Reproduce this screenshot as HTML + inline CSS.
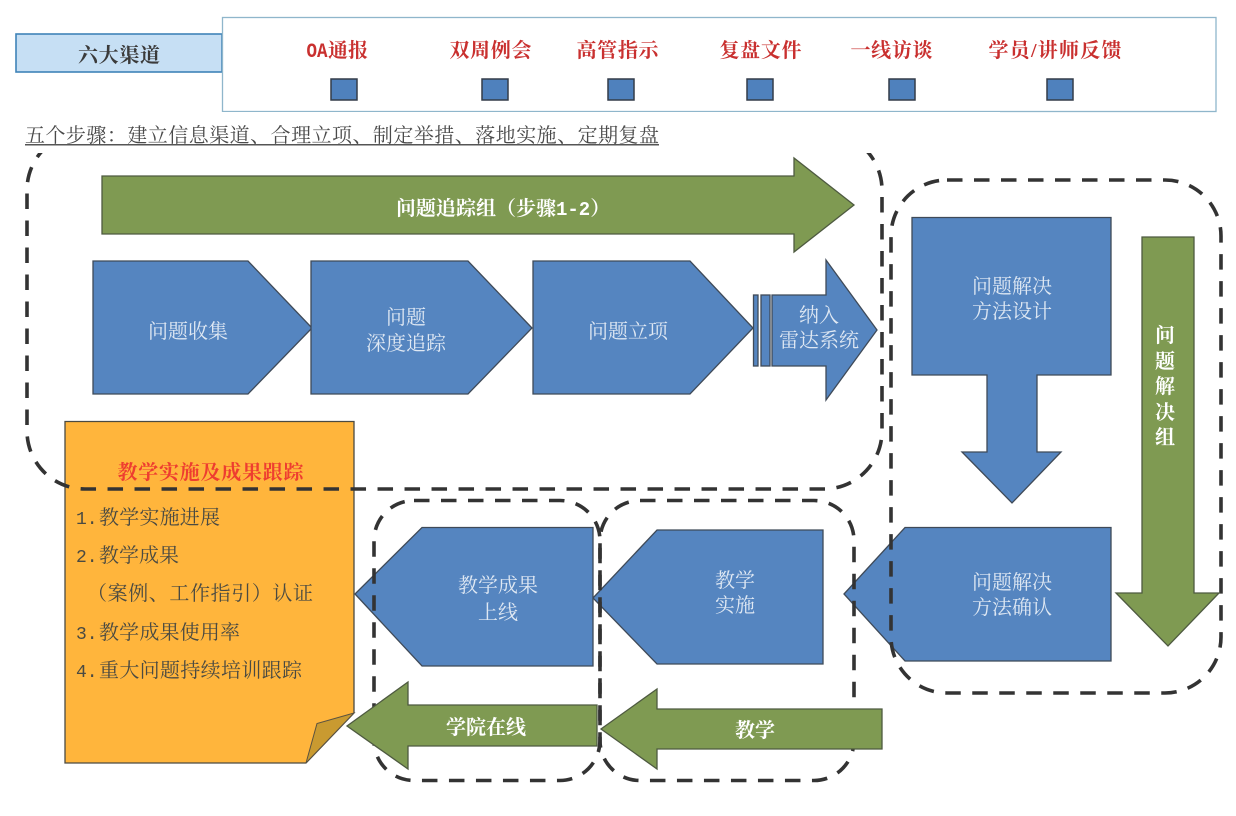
<!DOCTYPE html>
<html><head><meta charset="utf-8"><style>
html,body{margin:0;padding:0;background:#fff}
svg{display:block}
text{font-family:"Liberation Serif","Noto Serif CJK SC",serif;font-size:20px}
.m{font-family:"Liberation Mono","Noto Serif CJK SC",serif;font-size:18px}
.r{fill:#c9302f;font-weight:700;text-anchor:middle}
.w{fill:#dfe8f3;text-anchor:middle}
.g{fill:#fff;font-weight:700;text-anchor:middle}
.k{fill:#4a4a42}
.b{fill:#5585c0;stroke:#3f4a58;stroke-width:1.3}
.gr{fill:#7f9a52;stroke:#4e5a40;stroke-width:1.3}
.s{fill:#4f81bd;stroke:#333c48;stroke-width:1.5}
.d{fill:none;stroke:#333;stroke-width:3.6;stroke-dasharray:15.500 11.500}
</style></head><body>
<svg width="1236" height="816" viewBox="0 0 1236 816" xmlns="http://www.w3.org/2000/svg">
<rect width="1236" height="816" fill="#fff"/>

<!-- channels -->
<rect x="16" y="34" width="206" height="38" fill="#c6dff4" stroke="#3f83b8" stroke-width="1.6"/>
<text x="119" y="62" text-anchor="middle" font-weight="700" fill="#3a3a3a" textLength="82" lengthAdjust="spacing">六大渠道</text>
<rect x="222.5" y="17.5" width="993.5" height="94" fill="#fff" stroke="#8fb6cb" stroke-width="1.3"/>
<text x="306.500" y="57" fill="#c9302f" font-weight="700" class="m" style="font-size:20px" textLength="21" lengthAdjust="spacingAndGlyphs">OA</text>
<text x="328" y="57" fill="#c9302f" font-weight="700">通报</text>
<text x="490.5" y="57" class="r" textLength="82" lengthAdjust="spacing">双周例会</text>
<text x="617.5" y="57" class="r" textLength="82" lengthAdjust="spacing">高管指示</text>
<text x="760.5" y="57" class="r" textLength="82" lengthAdjust="spacing">复盘文件</text>
<text x="891.5" y="57" class="r" textLength="82" lengthAdjust="spacing">一线访谈</text>
<text x="1055" y="57" class="r" textLength="133" lengthAdjust="spacing">学员/讲师反馈</text>
<rect class="s" x="331" y="79" width="26" height="21"/>
<rect class="s" x="482" y="79" width="26" height="21"/>
<rect class="s" x="608" y="79" width="26" height="21"/>
<rect class="s" x="747" y="79" width="26" height="21"/>
<rect class="s" x="889" y="79" width="26" height="21"/>
<rect class="s" x="1047" y="79" width="26" height="21"/>

<!-- card -->
<path d="M65 421.5H354V713L306 763H65Z" fill="#ffb53c" stroke="#4a4a42" stroke-width="1.3"/>
<path d="M354 713L317 723.5L306 763Z" fill="#c99a30" stroke="#5a5240" stroke-width="1"/>
<text x="210.500" y="479" text-anchor="middle" font-weight="700" fill="#ee3d30" textLength="186" lengthAdjust="spacing">教学实施及成果跟踪</text>
<text class="k m" x="76" y="524">1.</text><text class="k" x="99" y="524" textLength="121" lengthAdjust="spacing">教学实施进展</text>
<text class="k m" x="76" y="562">2.</text><text class="k" x="99" y="562" textLength="80" lengthAdjust="spacing">教学成果</text>
<text class="k" x="87" y="600" textLength="226" lengthAdjust="spacing">（案例、工作指引）认证</text>
<text class="k m" x="76" y="639">3.</text><text class="k" x="99" y="639" textLength="141" lengthAdjust="spacing">教学成果使用率</text>
<text class="k m" x="76" y="677">4.</text><text class="k" x="99" y="677" textLength="203" lengthAdjust="spacing">重大问题持续培训跟踪</text>

<!-- blue process shapes -->
<path class="b" d="M93 261H248L312 328L248 394H93Z"/>
<path class="b" d="M311 261H468L532 328L468 394H311Z"/>
<path class="b" d="M533 261H690L753 328L690 394H533Z"/>
<rect class="b" x="753.500" y="295" width="4.500" height="71"/>
<rect class="b" x="761" y="295" width="9" height="71"/>
<path class="b" d="M772 295H826V260L877 330L826 400V366H772Z"/>
<path class="b" d="M912 217.500H1111V375H1037V452H1061L1012 503L962 452H987V375H912Z"/>
<path class="b" d="M844 594L905 527.500H1111V661H905Z"/>
<path class="b" d="M593 598L657 530H823V664H657Z"/>
<path class="b" d="M355 594L422 527.500H593V666H422Z"/>

<!-- blue labels -->
<text class="w" x="188" y="338">问题收集</text>
<text class="w" x="406" y="324">问题</text>
<text class="w" x="406" y="350">深度追踪</text>
<text class="w" x="628" y="338">问题立项</text>
<text class="w" x="819" y="322">纳入</text>
<text class="w" x="819" y="347">雷达系统</text>
<text class="w" x="1012" y="293">问题解决</text>
<text class="w" x="1012" y="318">方法设计</text>
<text class="w" x="1012" y="589">问题解决</text>
<text class="w" x="1012" y="614">方法确认</text>
<text class="w" x="735" y="587">教学</text>
<text class="w" x="735" y="612">实施</text>
<text class="w" x="498" y="592">教学成果</text>
<text class="w" x="498" y="619">上线</text>

<!-- dashed groups -->
<rect class="d" x="27" y="132" width="855" height="357" rx="58" ry="58"/>
<rect x="0" y="112" width="1000" height="41" fill="#fff"/>
<rect class="d" x="891" y="180" width="330" height="513" rx="56" ry="56"/>
<rect class="d" x="374" y="500.500" width="226" height="280" rx="40" ry="40"/>

<!-- green arrows -->
<path class="gr" d="M102 176H794V158L854 205L794 252V234H102Z"/>
<path class="gr" d="M1142 237H1194V593H1219L1168 646L1116 593H1142Z"/>
<path class="gr" d="M597 705V746H408V769L347 726L408 682V705Z"/>
<rect class="d" x="600" y="500.500" width="254" height="280" rx="40" ry="40"/>
<path class="gr" d="M882 709V749H657V769L601 729L657 689V709Z"/>

<!-- green labels -->
<text x="396" y="215" fill="#fff" font-weight="700">问题追踪组（步骤<tspan class="m" font-weight="700" style="font-size:19px">1-2</tspan>）</text>
<text class="g" x="1165" y="342">问</text>
<text class="g" x="1165" y="368">题</text>
<text class="g" x="1165" y="393">解</text>
<text class="g" x="1165" y="419">决</text>
<text class="g" x="1165" y="444">组</text>
<text class="g" x="486" y="734">学院在线</text>
<text class="g" x="755" y="737">教学</text>

<!-- steps -->
<text x="25" y="142" fill="#4a4a4a" textLength="634" lengthAdjust="spacing">五个步骤：建立信息渠道、合理立项、制定举措、落地实施、定期复盘</text>
<rect x="25" y="144" width="634" height="1.500" fill="#555"/>
</svg>
</body></html>
